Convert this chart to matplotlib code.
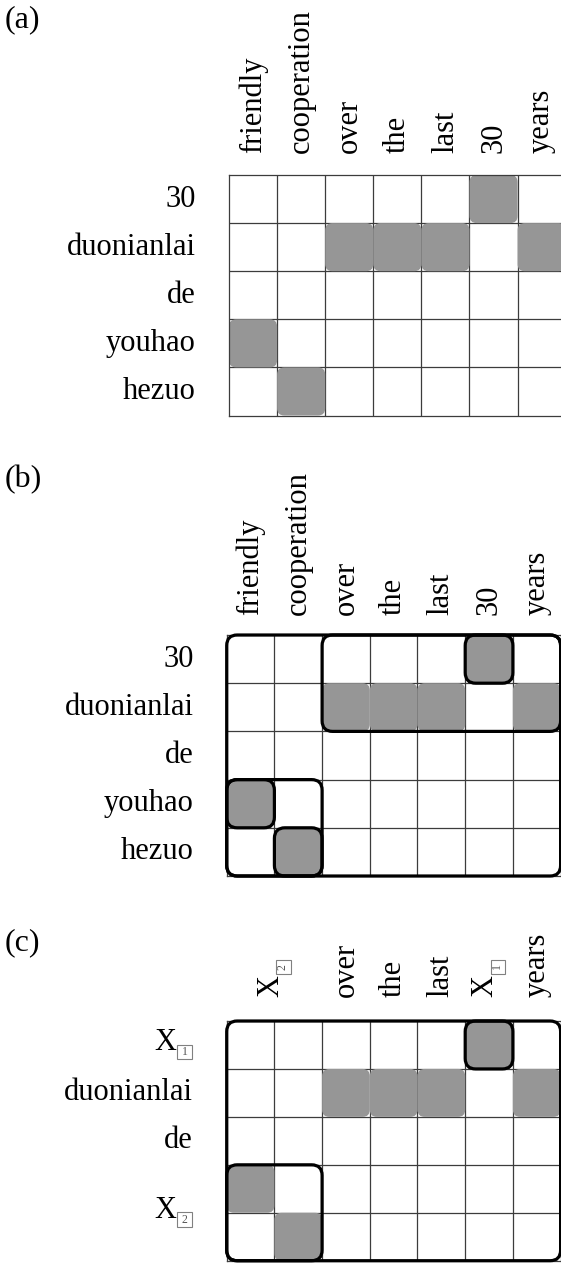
import matplotlib
matplotlib.use("Agg")
import matplotlib.pyplot as plt
from matplotlib.patches import FancyBboxPatch

# ---------------- data ----------------
cols_ab = ["friendly", "cooperation", "over", "the", "last", "30", "years"]
rows_ab = ["30", "duonianlai", "de", "youhao", "hezuo"]

cols_c = ["X", "over", "the", "last", "X", "years"]
cols_c_pos = [1.0, 2.5, 3.5, 4.5, 5.5, 6.5]
cols_c_sub = ["2", "", "", "", "1", ""]
rows_c = ["X", "duonianlai", "de", "X"]
rows_c_pos = [0.5, 1.5, 2.5, 4.0]
rows_c_sub = ["1", "", "", "2"]

# aligned (row, col) cells
aligned = [(0, 5), (1, 2), (1, 3), (1, 4), (1, 6), (3, 0), (4, 1)]

# phrase blocks: (row0, col0, nrows, ncols)
blocks_b = [(0, 0, 5, 7), (0, 2, 2, 5), (0, 5, 1, 1), (3, 0, 2, 2), (3, 0, 1, 1), (4, 1, 1, 1)]
blocks_c = [(0, 0, 5, 7), (0, 5, 1, 1), (3, 0, 2, 2)]

N_ROWS, N_COLS = 5, 7

# ---------------- style ----------------
W, H = 561, 1263
FONT = "Liberation Serif"
FS = 22
GRAY = "#969696"
GRID = "#3c3c3c"
SUB_FS = 8.5
SUB_BOX = dict(boxstyle="square,pad=0.12", fc="none", ec="#808080", lw=0.8)

plt.rcParams["font.family"] = [FONT, "DejaVu Serif"]

fig = plt.figure(figsize=(W / 100, H / 100), dpi=100)


def add_ax(left, top, width, height):
    return fig.add_axes([left / W, 1 - (top + height) / H, width / W, height / H])


def grid_axes(ax):
    ax.set_xlim(0, N_COLS)
    ax.set_ylim(N_ROWS, 0)
    ax.set_xticks([])
    ax.set_yticks([])
    for s in ax.spines.values():
        s.set_color(GRID)
        s.set_linewidth(0.9)
    for i in range(1, N_COLS):
        ax.axvline(i, color=GRID, lw=0.9, zorder=1)
    for j in range(1, N_ROWS):
        ax.axhline(j, color=GRID, lw=0.9, zorder=1)
    for r, c in aligned:
        ax.add_patch(FancyBboxPatch((c, r), 1, 1,
                                    boxstyle="round,pad=0,rounding_size=0.15",
                                    fc=GRAY, ec="none", zorder=2))


def draw_blocks(ax, blocks):
    for r0, c0, nr, nc in blocks:
        ax.add_patch(FancyBboxPatch((c0, r0), nc, nr,
                                    boxstyle="round,pad=0,rounding_size=0.22",
                                    fc="none", ec="black", lw=2.3, zorder=4,
                                    clip_on=False))


def col_labels(ax, labels, pos, gap, subs=None):
    for i, (lab, x) in enumerate(zip(labels, pos)):
        sub = subs[i] if subs else ""
        if sub:
            ax.annotate(lab, xy=(x, 0), xycoords="data", xytext=(-4, gap),
                        textcoords="offset pixels", rotation=90,
                        ha="center", va="bottom", fontsize=FS)
            ax.annotate(" " + sub + " ", xy=(x, 0), xycoords="data",
                        xytext=(9, gap + 30),
                        textcoords="offset pixels", rotation=90,
                        ha="center", va="center", fontsize=SUB_FS,
                        color="#555555", bbox=SUB_BOX)
        else:
            ax.annotate(lab, xy=(x, 0), xycoords="data", xytext=(0, gap),
                        textcoords="offset pixels", rotation=90,
                        ha="center", va="bottom", fontsize=FS)


def row_labels(ax, labels, pos, gap, subs=None):
    for i, (lab, y) in enumerate(zip(labels, pos)):
        sub = subs[i] if subs else ""
        if sub:
            ax.annotate(lab, xy=(0, y), xycoords="data", xytext=(-(gap + 16), 2),
                        textcoords="offset pixels",
                        ha="right", va="center", fontsize=FS)
            ax.annotate(" " + sub + " ", xy=(0, y), xycoords="data",
                        xytext=(-(gap + 8), -7),
                        textcoords="offset pixels",
                        ha="center", va="center", fontsize=SUB_FS,
                        color="#555555", bbox=SUB_BOX)
        else:
            ax.annotate(lab, xy=(0, y), xycoords="data", xytext=(-gap, 0),
                        textcoords="offset pixels",
                        ha="right", va="center", fontsize=FS)


centers_c = [i + 0.5 for i in range(N_COLS)]
centers_r = [j + 0.5 for j in range(N_ROWS)]

# ---- panel (a)
ax_a = add_ax(229, 175, 48.1 * 7, 48.1 * 5)
grid_axes(ax_a)
col_labels(ax_a, cols_ab, centers_c, 22)
row_labels(ax_a, rows_ab, centers_r, 33)

# ---- panel (b)
ax_b = add_ax(226.7, 635, 333.9, 241)
grid_axes(ax_b)
draw_blocks(ax_b, blocks_b)
col_labels(ax_b, cols_ab, centers_c, 20)
row_labels(ax_b, rows_ab, centers_r, 33)

# ---- panel (c)
ax_c = add_ax(226.7, 1021, 333.9, 239.7)
grid_axes(ax_c)
draw_blocks(ax_c, blocks_c)
col_labels(ax_c, cols_c, cols_c_pos, 24, cols_c_sub)
row_labels(ax_c, rows_c, rows_c_pos, 34, rows_c_sub)

# panel tags
for tag, top in [("(a)", 5), ("(b)", 465), ("(c)", 928)]:
    fig.text(5 / W, 1 - top / H, tag, ha="left", va="top", fontsize=23)

fig.savefig("out.png", dpi=100)
